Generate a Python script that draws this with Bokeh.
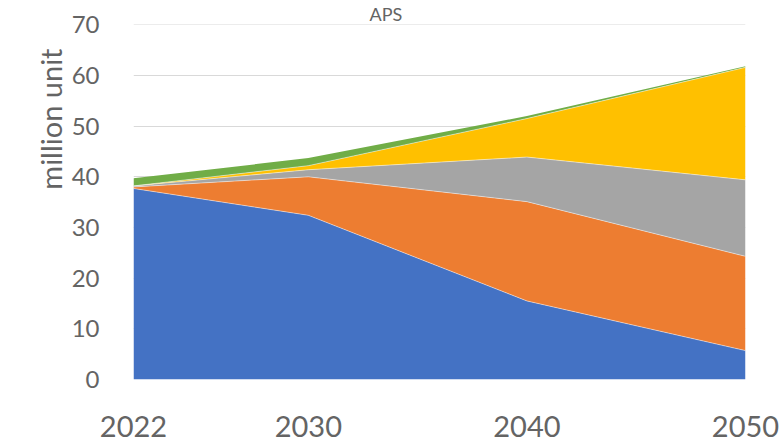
from bokeh.plotting import figure
from bokeh.models import FixedTicker, Range1d, Title
from bokeh.embed import file_html
from bokeh.resources import INLINE

years = [2022, 2030, 2040, 2050]
series_a = [37.7, 32.4, 15.5, 5.7]
series_b = [0.3, 7.6, 19.6, 18.6]
series_c = [0.2, 1.4, 8.8, 15.1]
series_d = [0.0, 0.8, 7.6, 22.2]
series_e = [1.5, 1.5, 0.5, 0.2]
names = ["series_a", "series_b", "series_c", "series_d", "series_e"]
colors = ["#4472C4", "#ED7D31", "#A5A5A5", "#FFC000", "#70AD47"]
y_ticks = [0, 10, 20, 30, 40, 50, 60, 70]

data = dict(years=years, series_a=series_a, series_b=series_b,
            series_c=series_c, series_d=series_d, series_e=series_e)

FONT = "Lato"
GRAY = "#646464"

p = figure(width=784, height=447, output_backend="svg", toolbar_location=None,
           x_range=Range1d(2022, 2050), y_range=Range1d(0, 70.06),
           min_border_left=133, min_border_right=39, min_border_top=22,
           min_border_bottom=68)
p.outline_line_color = None
p.background_fill_color = "white"
p.border_fill_color = "white"

p.varea_stack(stackers=names, x="years", color=colors, source=data)

# thin light separators between layers
cum = [0.0] * len(years)
for n in names[:-1]:
    cum = [c + v for c, v in zip(cum, data[n])]
    p.line(years, cum, line_color="white", line_width=0.8, line_alpha=0.6)

p.xgrid.grid_line_color = None
p.ygrid.grid_line_color = "#d9d9d9"
p.ygrid.grid_line_width = 1
p.ygrid.level = "underlay"

p.yaxis.ticker = FixedTicker(ticks=y_ticks)
p.xaxis.ticker = FixedTicker(ticks=years)
for ax in (p.xaxis[0], p.yaxis[0]):
    ax.axis_line_color = None
    ax.major_tick_line_color = None
    ax.minor_tick_line_color = None
    ax.major_label_text_font = FONT
    ax.major_label_text_color = GRAY

p.yaxis.major_label_text_font_size = "24px"
p.yaxis.major_label_standoff = 28

p.xaxis.major_label_text_font_size = "29px"
p.xaxis.major_label_standoff = 30

ylab = Title(text="million unit", align="right", offset=24, text_font=FONT,
             text_font_size="29px", text_font_style="normal", text_color=GRAY,
             standoff=2)
p.add_layout(ylab, "left")

title = Title(text="APS", align="left", offset=236, text_font=FONT,
              text_font_size="18px", text_font_style="normal", text_color=GRAY,
              standoff=0)
p.add_layout(title, "above")

open("out.html", "w").write(file_html(p, INLINE))
